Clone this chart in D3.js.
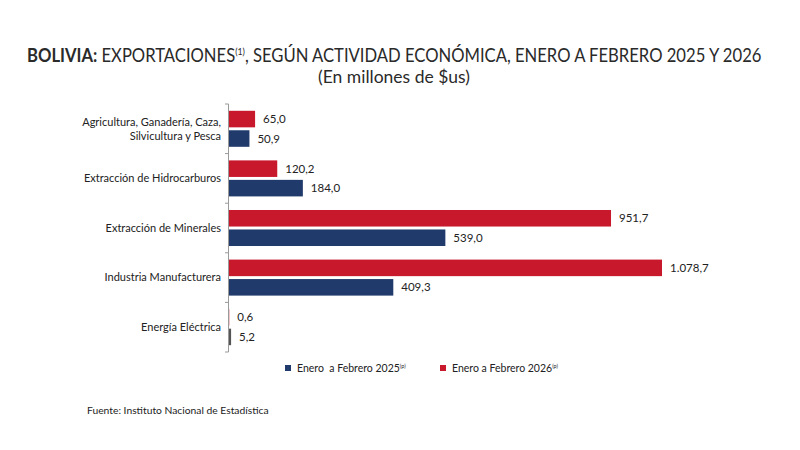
<!DOCTYPE html>
<html><head><meta charset="utf-8">
<script src="https://cdn.jsdelivr.net/npm/d3@7"></script>
<style>body{margin:0;background:#fff}svg{display:block}text{white-space:pre}</style>
</head><body>
<svg id="c" width="800" height="450"></svg>
<script>
const categories = ["Agricultura, Ganadería, Caza,|Silvicultura y Pesca","Extracción de Hidrocarburos","Extracción de Minerales","Industria Manufacturera","Energía Eléctrica"];
const series = ["2026","2025"];
const values2026 = [65.0, 120.2, 951.7, 1078.7, 0.6];
const values2025 = [50.9, 184.0, 539.0, 409.3, 5.2];
const legendLabels = ["Enero  a Febrero 2025", "Enero a Febrero 2026"];
const colors = {"2026":"#C8182B","2025":"#213A6C"};

const svg = d3.select("#c");
const font = "Lato, 'Open Sans', sans-serif";
const loc = d3.formatLocale({decimal:",", thousands:".", grouping:[3], currency:["$",""]});
const fmt = loc.format(",.1f");

// Title
const t = svg.append("text").attr("y",62).attr("font-family",font).attr("font-size",19).attr("fill","#2a2a2a");
t.append("tspan").attr("font-weight","bold").text("BOLIVIA:");
t.append("tspan").text(" EXPORTACIONES");
t.append("tspan").attr("font-size",10).attr("dy",-7).text("(1)");
t.append("tspan").attr("dy",7).text(", SEGÚN ACTIVIDAD ECONÓMICA, ENERO A FEBRERO 2025 Y 2026");
const tw = t.node().getBBox().width;
const sx = 735/tw;
t.attr("transform",`translate(27,0) scale(${sx},1)`);

const st = svg.append("text").attr("y",83).attr("font-family",font).attr("font-size",17.5).attr("fill","#2a2a2a")
  .attr("text-anchor","middle").text("(En millones de $us)");
const sw = st.node().getBBox().width;
st.attr("transform",`translate(394,0) scale(${Math.min(1,156/sw)},1)`);

const x0 = 229;
const x = d3.scaleLinear().domain([0,1078.7]).range([x0,662]);
const y = d3.scaleBand().domain(categories).range([104,352]).paddingInner(0.274).paddingOuter(0.137);
const ys = d3.scaleBand().domain(series).range([0,y.bandwidth()]).paddingInner(0.15);

const data = categories.map((c,i)=>({c, vals:[{s:"2026",v:values2026[i]},{s:"2025",v:values2025[i]}]}));

const g = svg.append("g");
const groups = g.selectAll("g.cat").data(data).join("g").attr("transform",d=>`translate(0,${y(d.c)})`);
groups.selectAll("rect").data(d=>d.vals).join("rect")
  .attr("x",x(0)).attr("y",d=>ys(d.s)).attr("height",ys.bandwidth())
  .attr("width",d=>x(d.v)-x(0)).attr("fill",d=>d.v<10 && d.s==="2025" ? "#555" : colors[d.s]);
groups.selectAll("text.val").data(d=>d.vals).join("text").attr("class","val")
  .attr("x",d=>x(d.v)+8).attr("y",d=>ys(d.s)+ys.bandwidth()/2).attr("dy","0.35em")
  .attr("font-family",font).attr("font-size",11.5).attr("fill","#222").text(d=>fmt(d.v));

// Axis
const step = y.step();
const ticks = d3.range(categories.length+1).map(i=>104+i*step);
const ax = svg.append("g");
ax.append("line").attr("x1",x0-0.5).attr("x2",x0-0.5).attr("y1",104).attr("y2",352).attr("stroke","#9a9a9a").attr("stroke-width",1);
ax.selectAll("line.t").data(ticks).join("line").attr("class","t").attr("x1",x0-4).attr("x2",x0-0.5)
  .attr("y1",d=>d).attr("y2",d=>d).attr("stroke","#9a9a9a");
// Category labels
const lab = svg.append("g").selectAll("text").data(categories).join("text")
  .attr("x",221).attr("text-anchor","end").attr("font-family",font).attr("font-size",11).attr("fill","#222")
  .attr("y",d=>y(d)+y.bandwidth()/2);
lab.each(function(d){
  const lines = d.split("|");
  const s = d3.select(this);
  lines.forEach((l,i)=>{
    s.append("tspan").attr("x",221).attr("dy", i===0 ? (0.35 - (lines.length-1)*0.6)+"em" : "1.3em").text(l);
  });
});

// Legend
const leg = svg.append("g").attr("font-family",font).attr("font-size",10.5).attr("fill","#222");
const legItems = [{s:"2025",label:legendLabels[0],x:285},{s:"2026",label:legendLabels[1],x:440}];
legItems.forEach(it=>{
  leg.append("rect").attr("x",it.x).attr("y",365).attr("width",6).attr("height",6).attr("fill",colors[it.s]);
  const tx = leg.append("text").attr("x",it.x+12).attr("y",371.5);
  tx.append("tspan").text(it.label);
  tx.append("tspan").attr("font-size",5.5).attr("dy",-4).text("(p)");
});

svg.append("text").attr("x",87).attr("y",414).attr("font-family",font).attr("font-size",10.3).attr("fill","#222")
  .text("Fuente: Instituto Nacional de Estadística");
</script>
</body></html>
